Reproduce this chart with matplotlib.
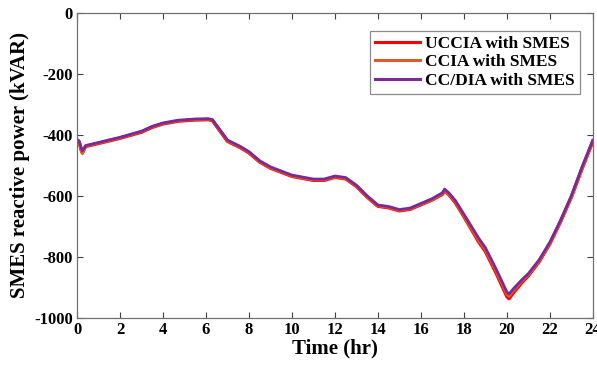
import numpy as np
import matplotlib
matplotlib.use('Agg')
import matplotlib.pyplot as plt

plt.rcParams['font.family'] = ['Liberation Serif', 'DejaVu Serif']
plt.rcParams['font.weight'] = 'bold'
plt.rcParams['axes.unicode_minus'] = False

# time axis (hr)
t = [0, 0.1, 0.2, 0.25, 0.4, 1, 2, 3, 3.5, 4, 4.7, 5.5, 6.1, 6.3, 7, 7.6,
     8, 8.5, 9, 10, 11, 11.5, 12, 12.5, 13, 13.5, 14, 14.5, 15, 15.5, 16,
     16.5, 17, 17.1, 17.3, 17.6, 18, 18.7, 19, 19.5, 20, 20.1, 20.3, 20.7,
     21, 21.5, 22, 22.5, 23, 23.5, 24]

# SMES reactive power (kVAR)
cc_dia = [-415, -420, -445, -452, -435, -425, -408, -388, -372, -361, -352,
          -348, -347, -350, -417, -438, -455, -485, -505, -532, -545, -545,
          -535, -540, -565, -600, -630, -635, -645, -640, -625, -610, -590,
          -578, -590, -615, -660, -740, -770, -840, -915, -922, -905, -875,
          -855, -810, -752, -680, -600, -505, -418]
ccia = [-417, -425, -455, -462, -438, -427, -410, -390, -374, -363, -354,
        -350, -349, -352, -420, -441, -458, -488, -508, -535, -548, -548,
        -538, -543, -568, -603, -633, -638, -648, -643, -628, -613, -594,
        -582, -595, -620, -667, -748, -778, -848, -924, -930, -912, -880,
        -860, -815, -758, -686, -606, -512, -422]
uccia = [-418, -424, -450, -458, -438, -428, -411, -391, -375, -364, -355,
         -351, -350, -353, -421, -442, -459, -489, -509, -536, -549, -549,
         -539, -544, -569, -604, -634, -639, -649, -644, -629, -614, -595,
         -583, -596, -622, -668, -752, -782, -853, -930, -937, -918, -884,
         -862, -816, -757, -684, -604, -510, -421]

fig = plt.figure(figsize=(5.97, 3.67), dpi=100)
ax = fig.add_axes([0.129, 0.134, 0.864, 0.831])

ax.plot(t, uccia, color='#ff0000', lw=2.5, label='UCCIA with SMES')
ax.plot(t, ccia, color='#e05a28', lw=2.0, label='CCIA with SMES')
ax.plot(t, cc_dia, color='#7a2a96', lw=2.0, label='CC/DIA with SMES')

ax.set_xlim(0, 24)
ax.set_ylim(-1000, 0)
ax.set_xticks(range(0, 25, 2))
ax.set_yticks(range(-1000, 1, 200))
ax.tick_params(direction='in', top=True, right=True, labelsize=12, length=4,
               color='#404040', pad=3)
for s in ax.spines.values():
    s.set_color('#707070')
    s.set_linewidth(0.9)

ax.set_xlabel('Time (hr)', fontsize=15, fontweight='bold', labelpad=0)
ax.set_ylabel('SMES reactive power (kVAR)', fontsize=15, fontweight='bold', labelpad=3)

leg = ax.legend(loc='upper right', bbox_to_anchor=(0.975, 0.941), fontsize=12.5,
                frameon=True, fancybox=False, handlelength=2.6, handletextpad=0.3,
                borderpad=0.3, labelspacing=0.12, borderaxespad=0)
leg.get_frame().set_edgecolor('#707070')
leg.get_frame().set_linewidth(0.9)
for line in leg.get_lines():
    line.set_linewidth(2.2)

fig.savefig('out.png', dpi=100)
